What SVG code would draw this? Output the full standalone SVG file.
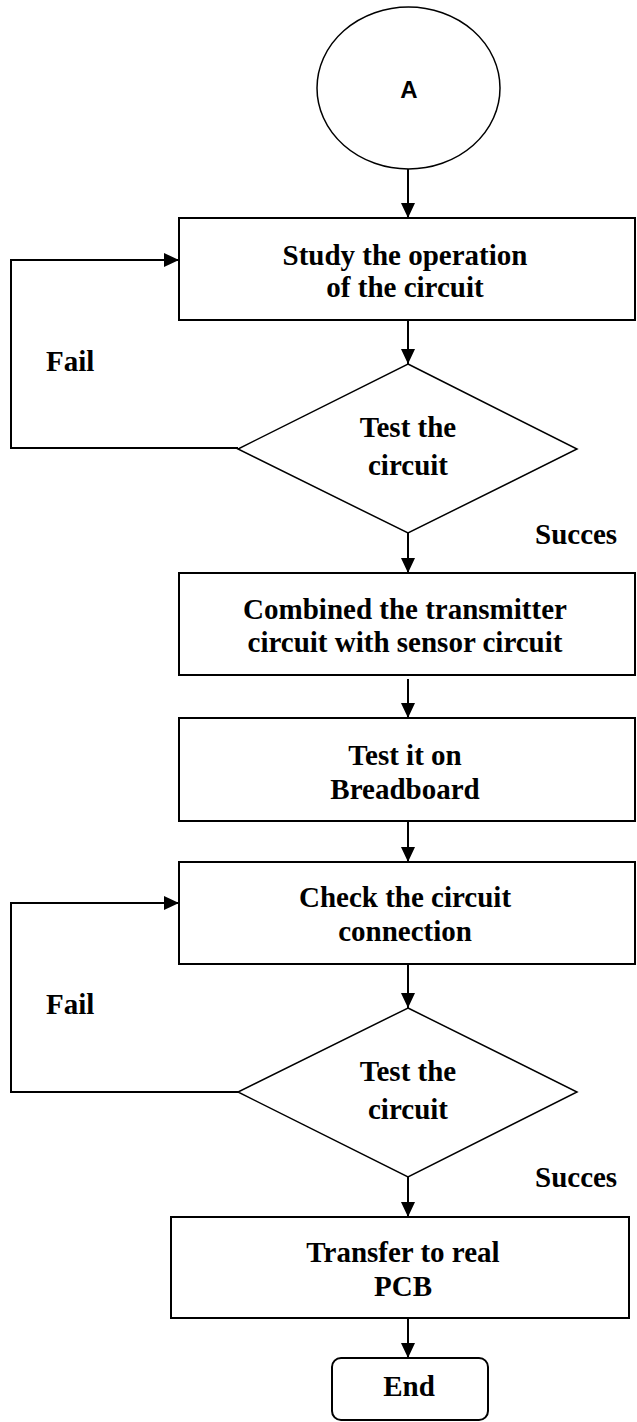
<svg xmlns="http://www.w3.org/2000/svg" width="637" height="1422" viewBox="0 0 637 1422">
  <style>
    .shape { fill: #fff; stroke: #000; stroke-width: 2; }
    .thin { fill: #fff; stroke: #000; stroke-width: 1.5; }
    .edge { fill: none; stroke: #000; stroke-width: 2; }
    .t { font-family: "Liberation Serif", "Times New Roman", serif; font-weight: bold; font-size: 29px; fill: #000; text-anchor: middle; }
    .lbl { font-family: "Liberation Serif", "Times New Roman", serif; font-weight: bold; font-size: 29px; fill: #000; }
    .a { font-family: "Liberation Sans", Arial, sans-serif; font-weight: bold; font-size: 24px; fill: #000; text-anchor: middle; }
  </style>
  <defs>
    <marker id="arrow" markerUnits="userSpaceOnUse" markerWidth="15" markerHeight="14" refX="15" refY="7" orient="auto">
      <path d="M0,0 L15,7 L0,14 Z" fill="#000"/>
    </marker>
  </defs>

  <!-- connectors -->
  <g id="connectors">
    <line class="edge" x1="408" y1="169" x2="408" y2="218" marker-end="url(#arrow)"/>
    <line class="edge" x1="408" y1="320" x2="408" y2="364" marker-end="url(#arrow)"/>
    <polyline class="edge" points="238,448 11,448 11,260 179,260" marker-end="url(#arrow)"/>
    <line class="edge" x1="408" y1="533" x2="408" y2="573" marker-end="url(#arrow)"/>
    <line class="edge" x1="408" y1="679" x2="408" y2="718" marker-end="url(#arrow)"/>
    <line class="edge" x1="408" y1="821" x2="408" y2="862" marker-end="url(#arrow)"/>
    <line class="edge" x1="408" y1="964" x2="408" y2="1008" marker-end="url(#arrow)"/>
    <polyline class="edge" points="238,1092 11,1092 11,903 179,903" marker-end="url(#arrow)"/>
    <line class="edge" x1="408" y1="1177" x2="408" y2="1217" marker-end="url(#arrow)"/>
    <line class="edge" x1="408" y1="1318" x2="408" y2="1358" marker-end="url(#arrow)"/>
  </g>

  <!-- edge labels -->
  <g id="labels">
    <text class="lbl" x="46" y="371">Fail</text>
    <text class="lbl" x="535" y="544">Succes</text>
    <text class="lbl" x="46" y="1014">Fail</text>
    <text class="lbl" x="535" y="1187">Succes</text>
  </g>

  <g id="start">
    <ellipse class="thin" cx="408.5" cy="88" rx="91.5" ry="81"/>
    <text class="a" x="409" y="98">A</text>
  </g>

  <g id="study">
    <rect class="shape" x="179" y="218" width="456" height="102"/>
    <text class="t" x="405" y="265">Study the operation</text>
    <text class="t" x="405" y="297">of the circuit</text>
  </g>

  <g id="test1">
    <polygon class="thin" points="408,364 577,449 408,533 238,449"/>
    <text class="t" x="408" y="437">Test the</text>
    <text class="t" x="408" y="475">circuit</text>
  </g>

  <g id="combine">
    <rect class="shape" x="179" y="573" width="456" height="102"/>
    <text class="t" x="405" y="619">Combined the transmitter</text>
    <text class="t" x="405" y="652">circuit with sensor circuit</text>
  </g>

  <g id="breadboard">
    <rect class="shape" x="179" y="718" width="456" height="103"/>
    <text class="t" x="405" y="765">Test it on</text>
    <text class="t" x="405" y="799">Breadboard</text>
  </g>

  <g id="check">
    <rect class="shape" x="179" y="862" width="456" height="102"/>
    <text class="t" x="405" y="907">Check the circuit</text>
    <text class="t" x="405" y="941">connection</text>
  </g>

  <g id="test2">
    <polygon class="thin" points="408,1008 577,1092 408,1177 238,1092"/>
    <text class="t" x="408" y="1081">Test the</text>
    <text class="t" x="408" y="1119">circuit</text>
  </g>

  <g id="transfer">
    <rect class="shape" x="171" y="1217" width="458" height="101"/>
    <text class="t" x="403" y="1262">Transfer to real</text>
    <text class="t" x="403" y="1296">PCB</text>
  </g>

  <g id="end">
    <rect class="shape" x="332" y="1358" width="156" height="62" rx="9" ry="9"/>
    <text class="t" x="409" y="1396">End</text>
  </g>
</svg>
